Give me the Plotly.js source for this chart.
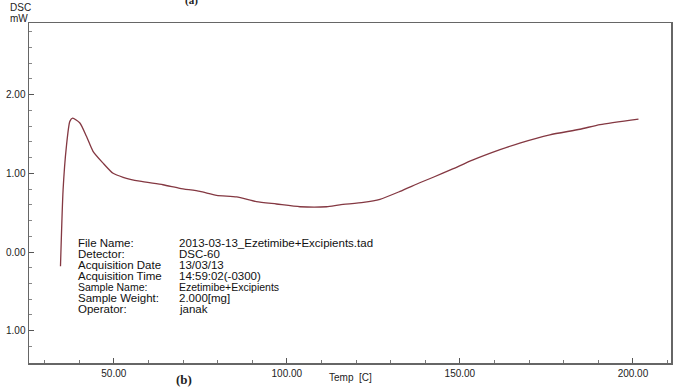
<!DOCTYPE html>
<html>
<head>
<meta charset="utf-8">
<script src="https://cdn.plot.ly/plotly-3.0.1.min.js"></script>
<style>html,body{margin:0;padding:0;background:#fff;}#chart{width:679px;height:387px;}</style>
</head>
<body>
<div id="chart"></div>
<script>
var tempC = [34.6, 35.35, 36.3, 37.3, 38.1, 40.2, 42.1, 44.0, 46.9, 49.8, 52.7, 57.5, 64.2, 69.1, 74.9, 79.7, 85.5, 91.2, 97.0, 103.8, 111.5, 115.3, 122.1, 126.9, 132.7, 138.4, 142.3, 148.1, 153.8, 161.6, 167.3, 176.0, 184.7, 190.5, 201.6];
var dscMW = [-0.18, 0.79, 1.34, 1.66, 1.70, 1.64, 1.47, 1.28, 1.13, 1.00, 0.95, 0.90, 0.855, 0.81, 0.77, 0.72, 0.70, 0.64, 0.61, 0.575, 0.575, 0.60, 0.63, 0.67, 0.77, 0.88, 0.95, 1.06, 1.17, 1.30, 1.385, 1.49, 1.56, 1.62, 1.69];
var yTickVals = [-1, 0, 1, 2];
var yTickText = ['1.00', '0.00', '1.00', '2.00'];
var infoLabels = ['File Name:', 'Detector:', 'Acquisition Date', 'Acquisition Time', 'Sample Name:', 'Sample Weight:', 'Operator:'];
var infoValues = ['2013-03-13_Ezetimibe+Excipients.tad', 'DSC-60', '13/03/13', '14:59:02(-0300)', 'Ezetimibe+Excipients', '2.000[mg]', 'janak'];

var L = 29, T = 23.3, W = 642, H = 340;
function px(x){ return (x - L) / W; }
function py(y){ return (T + H - y) / H; }

var ann = [];
var font = 'Liberation Sans, Arial, sans-serif';
ann.push({text:'DSC', x:px(20), y:py(8), xref:'paper', yref:'paper', showarrow:false, font:{family:font,size:10,color:'#222'}, xanchor:'center', yanchor:'middle'});
ann.push({text:'mW', x:px(19), y:py(18.5), xref:'paper', yref:'paper', showarrow:false, font:{family:font,size:10,color:'#222'}, xanchor:'center', yanchor:'middle'});
ann.push({text:'<b>(a)</b>', x:px(192), y:py(1), xref:'paper', yref:'paper', showarrow:false, font:{family:'Liberation Serif, Times New Roman, serif',size:11,color:'#222'}, xanchor:'center', yanchor:'middle'});
ann.push({text:'<b>(b)</b>', x:px(184), y:py(380), xref:'paper', yref:'paper', showarrow:false, font:{family:'Liberation Serif, Times New Roman, serif',size:13,color:'#222'}, xanchor:'center', yanchor:'middle'});
ann.push({text:'Temp  [C]', x:px(351), y:py(378), xref:'paper', yref:'paper', showarrow:false, font:{family:font,size:10,color:'#222'}, xanchor:'center', yanchor:'middle'});
var rowY = [243.5, 254.5, 265.5, 276.5, 287, 298, 309];
for (var i = 0; i < infoLabels.length; i++) {
  var fs = (i === 4) ? 10.5 : 11.5;
  ann.push({text:infoLabels[i], x:px(76), y:py(rowY[i]), xref:'paper', yref:'paper', showarrow:false, font:{family:font,size:fs,color:'#111'}, xanchor:'left', yanchor:'middle'});
  ann.push({text:infoValues[i], x:px(177), y:py(rowY[i]), xref:'paper', yref:'paper', showarrow:false, font:{family:font,size:fs,color:'#111'}, xanchor:'left', yanchor:'middle'});
}

var trace = {x:tempC, y:dscMW, mode:'lines', line:{color:'#843842', width:1.3, shape:'spline', smoothing:0.6}, hoverinfo:'skip'};

var layout = {
  width:679, height:387,
  margin:{l:L, r:679-L-W, t:T, b:387-T-H, pad:0},
  paper_bgcolor:'#fff', plot_bgcolor:'#fff',
  showlegend:false,
  xaxis:{range:[25.5, 211], tickmode:'linear', tick0:0, dtick:50, tickformat:'.2f',
    ticks:'inside', ticklen:5, tickcolor:'#555', showline:true, mirror:true, linecolor:'#666', linewidth:1.5,
    showgrid:false, zeroline:false, tickfont:{family:font,size:10,color:'#222'},
    minor:{tickmode:'linear', tick0:0, dtick:10, ticks:'inside', ticklen:3, tickcolor:'#777', showgrid:false}},
  yaxis:{range:[-1.41, 2.91], tickmode:'array', tickvals:yTickVals, ticktext:yTickText,
    ticks:'inside', ticklen:5, tickcolor:'#555', showline:true, mirror:true, linecolor:'#666', linewidth:1.5,
    showgrid:false, zeroline:false, tickfont:{family:font,size:10,color:'#222'},
    minor:{tickmode:'linear', tick0:0, dtick:0.2, ticks:'inside', ticklen:3, tickcolor:'#888', showgrid:false}},
  annotations:ann
};
Plotly.newPlot('chart', [trace], layout, {staticPlot:true, displayModeBar:false});
</script>
</body>
</html>
